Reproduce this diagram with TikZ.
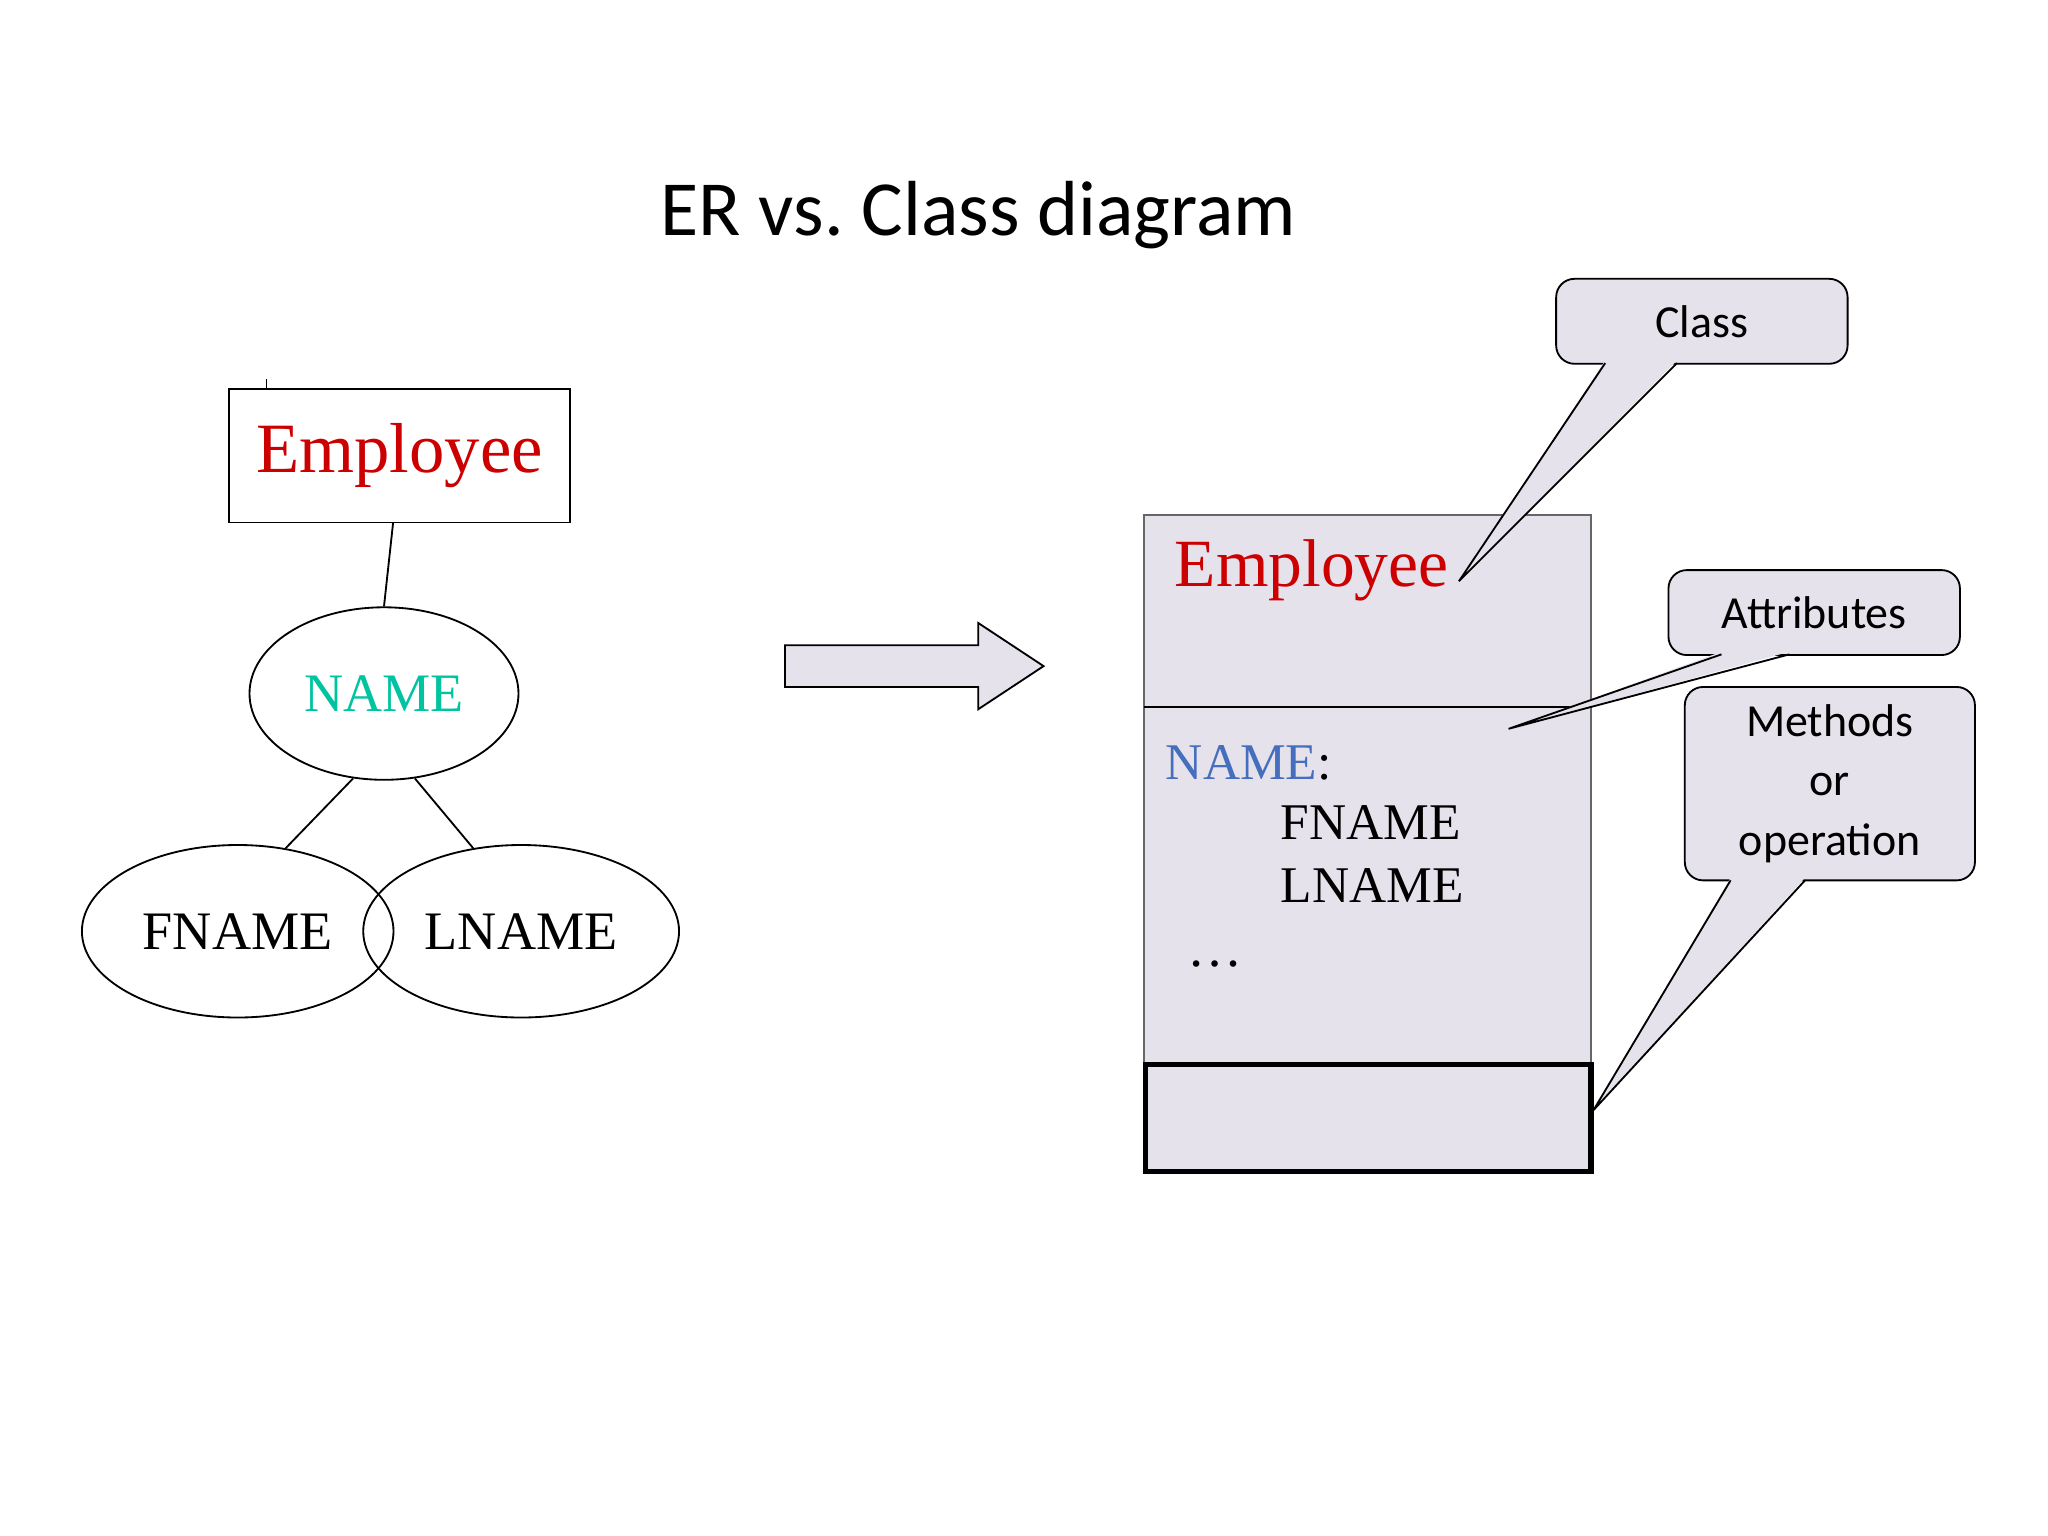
\documentclass[tikz,border=0pt]{standalone}
\usepackage{fontspec}
\setmainfont{Liberation Serif}
\newfontfamily\calibri{Carlito}
\usetikzlibrary{positioning,shapes.geometric,shapes.arrows}
\definecolor{lav}{RGB}{230,226,236}
\definecolor{empred}{RGB}{204,0,0}
\definecolor{nameteal}{RGB}{0,196,160}
\definecolor{nameblue}{RGB}{70,110,190}
\tikzset{
  attr/.style={draw,ellipse,minimum width=1.82cm,minimum height=1.32cm,font=\fontsize{11.8}{12}\selectfont},
  callout/.style={draw,fill=lav,rounded corners=0.14cm,font=\calibri\fontsize{10}{13}\selectfont,align=center},
}
\begin{document}
\begin{tikzpicture}[x=0.01cm,y=-0.01cm]
	\useasboundingbox (0,0) rectangle (1568,1176);
	\node[font=\calibri\fontsize{17}{20}\selectfont] (title) at (749,165) {ER vs.\ Class diagram};
	% ER side
	\node[draw,minimum width=2.61cm,minimum height=1.02cm,text=empred,font=\fontsize{15.4}{16}\selectfont] (ent) at (306,349) {Employee};
	\draw (204,290) -- (204,298);
	\node[attr,minimum width=1.8cm,text=nameteal] (name) at (294,531) {NAME};
	\node[attr] (fname) at (182,713) {FNAME};
	\node[attr] (lname) at (399,713) {LNAME};
	\draw (301,400) -- (name.north);
	\draw (name.-110) -- (fname.60);
	\draw (name.-70) -- (lname.120);
	% arrow
	\draw[fill=lav] (601,494) -- (749,494) -- (749,477) -- (799,510) -- (749,543) -- (749,526) -- (601,526) -- cycle;
	% class side
	\draw[fill=lav,draw=black!60] (876,394) rectangle (1218,815);
	\draw (876,541) -- (1218,541);
	\draw[line width=1.2pt,fill=lav] (877,815) rectangle (1218,897);
	\node[anchor=west,text=empred,font=\fontsize{14.7}{15}\selectfont] (cemp) at (887,437) {Employee};
	\node[anchor=base west,font=\fontsize{11.2}{12}\selectfont,inner sep=0] (cname) at (892,597) {\textcolor{nameblue}{NAME}:};
	\node[anchor=base west,font=\fontsize{11.2}{12}\selectfont,inner sep=0] (cf) at (980,643) {FNAME};
	\node[anchor=base west,font=\fontsize{11.2}{12}\selectfont,inner sep=0] (cl) at (980,691) {LNAME};
	\node[font=\fontsize{12}{12}\selectfont] (dots) at (930,738) {\dots};
	% callouts
	\node[callout,minimum width=2.23cm,minimum height=0.65cm] (cls) at (1303,246) {Class};
	\fill[lav] (1229,276) -- (1117,445) -- (1284,276) -- cycle;
	\draw (1229,278) -- (1117,445) -- (1284,278);
	\node[callout,minimum width=2.23cm,minimum height=0.65cm] (att) at (1389,469) {Attributes};
	\fill[lav] (1318,499) -- (1155,558) -- (1370,499) -- cycle;
	\draw (1318,501) -- (1155,558) -- (1370,501);
	\node[callout,minimum width=2.22cm,minimum height=1.48cm] (meth) at (1401,600) {Methods\\or\\operation};
	\fill[lav] (1325,672) -- (1220,850) -- (1382,672) -- cycle;
	\draw (1325,674) -- (1220,850) -- (1382,674);
\end{tikzpicture}
\end{document}
